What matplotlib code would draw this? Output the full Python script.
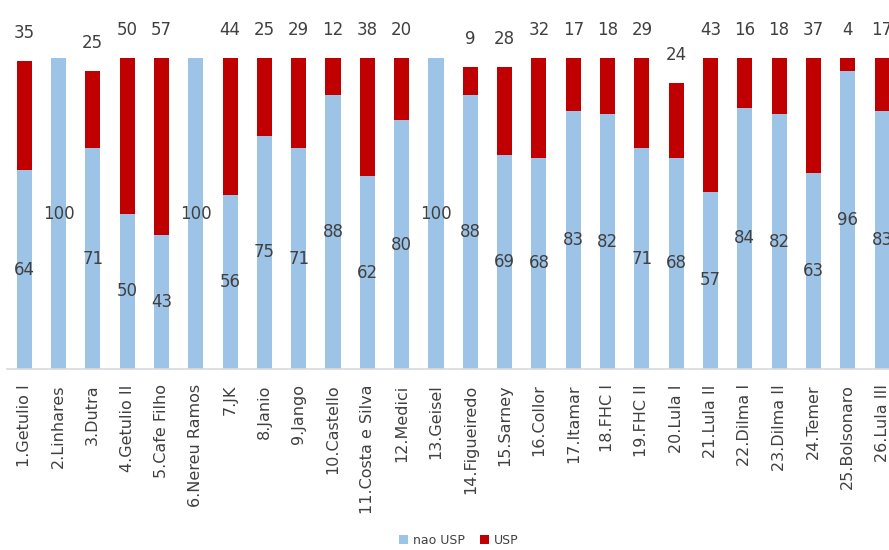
import matplotlib
matplotlib.use("Agg")
import matplotlib.pyplot as plt
import numpy as np

categories = ["1.Getulio I", "2.Linhares", "3.Dutra", "4.Getulio II", "5.Cafe Filho",
              "6.Nereu Ramos", "7.JK", "8.Janio", "9.Jango", "10.Castello",
              "11.Costa e Silva", "12.Medici", "13.Geisel", "14.Figueiredo", "15.Sarney",
              "16.Collor", "17.Itamar", "18.FHC I", "19.FHC II", "20.Lula I",
              "21.Lula II", "22.Dilma I", "23.Dilma II", "24.Temer", "25.Bolsonaro",
              "26.Lula III"]
nao_usp = [64, 100, 71, 50, 43, 100, 56, 75, 71, 88, 62, 80, 100, 88, 69, 68,
           83, 82, 71, 68, 57, 84, 82, 63, 96, 83]
usp = [35, None, 25, 50, 57, None, 44, 25, 29, 12, 38, 20, None, 9, 28, 32,
       17, 18, 29, 24, 43, 16, 18, 37, 4, 17]

BLUE = "#9DC3E6"
RED = "#C00000"
TXT = "#404040"

fig = plt.figure(figsize=(8.89, 5.5), dpi=100)
ax = fig.add_axes([7 / 889, 181 / 550, 882 / 889, 369 / 550])

x = np.arange(len(categories))
blue_vals = np.array(nao_usp, dtype=float)
red_vals = np.array([v if v is not None else 0 for v in usp], dtype=float)
w = 0.44

ax.bar(x, blue_vals, w, color=BLUE, label="nao USP", zorder=2)
ax.bar(x, red_vals, w, bottom=blue_vals, color=RED, label="USP", zorder=2)

for i in range(len(categories)):
    ax.text(x[i], blue_vals[i] / 2, f"{nao_usp[i]}", ha="center", va="center",
            fontsize=12, color=TXT, zorder=3)
    if usp[i] is not None:
        top = blue_vals[i] + red_vals[i]
        ax.text(x[i], top + 9, f"{usp[i]}", ha="center", va="center",
                fontsize=12, color=TXT, zorder=3)

ax.set_xlim(-0.5, 25.2)
ax.set_ylim(0, 118.7)
ax.set_yticks([])
ax.set_xticks(x)
ax.set_xticklabels(categories, rotation=90, fontsize=11.5, color="#404040")
ax.tick_params(axis="x", length=0, pad=11)
for s in ["top", "right", "left"]:
    ax.spines[s].set_visible(False)
ax.spines["bottom"].set_color("#D9D9D9")
ax.spines["bottom"].set_linewidth(1.2)

fig.legend(loc="center", bbox_to_anchor=(459 / 889, 1 - 540 / 550), ncol=2,
           frameon=False, fontsize=9, handlelength=0.7, handleheight=0.7,
           handletextpad=0.4, columnspacing=1.2, labelcolor="#404040")

fig.savefig("out.png", dpi=100)
